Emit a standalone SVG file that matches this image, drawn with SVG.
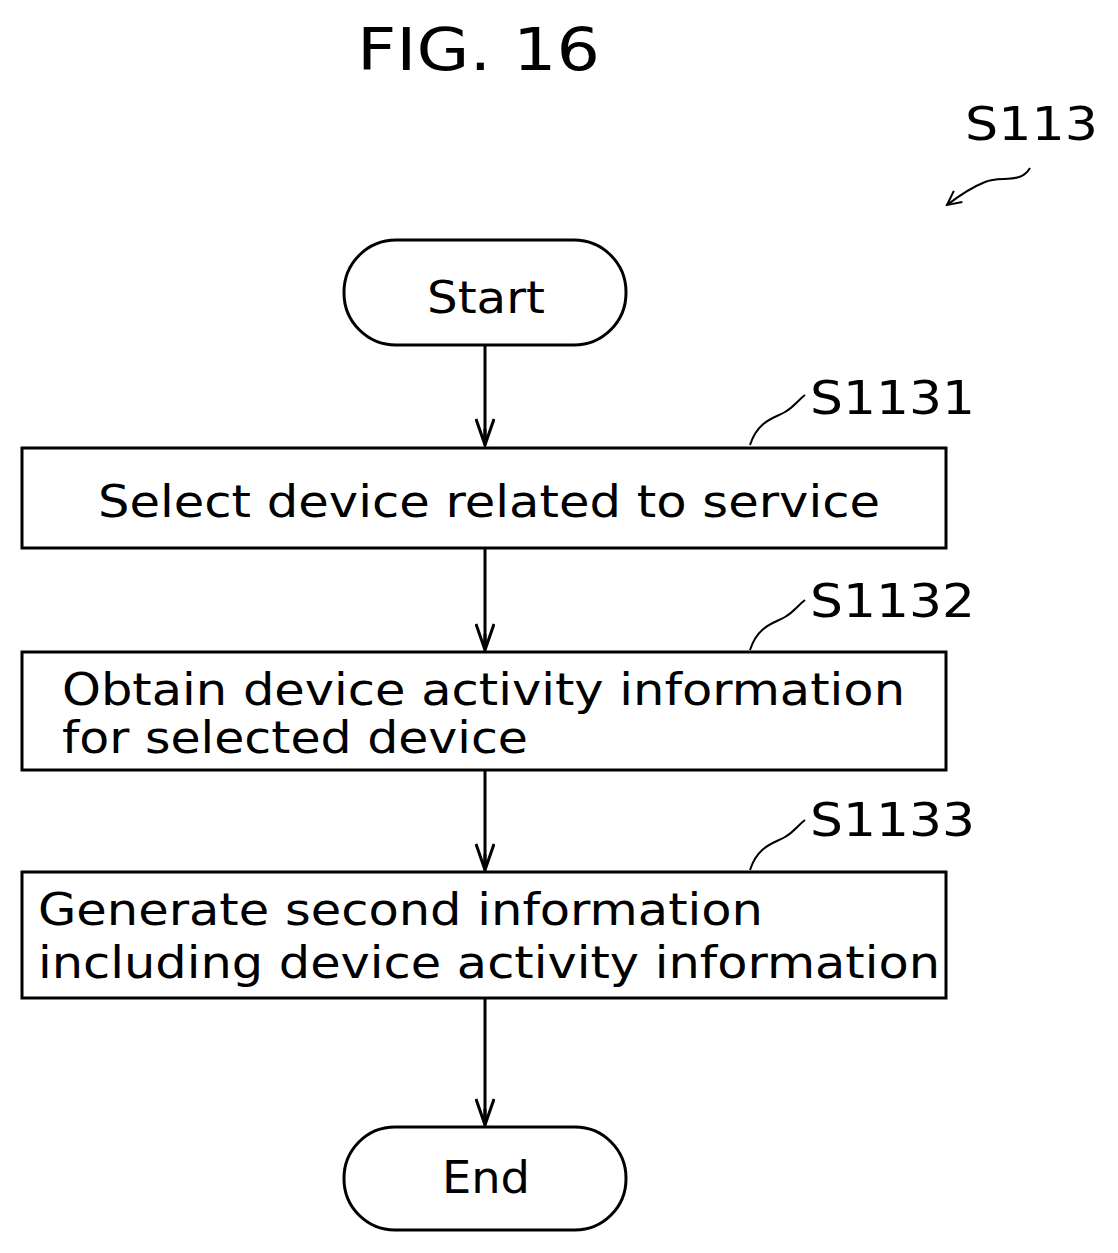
<svg xmlns="http://www.w3.org/2000/svg" width="1118" height="1253" viewBox="0 0 1118 1253">
<style>
text{font-family:"DejaVu Sans",sans-serif;fill:#000}
.t{font-size:45px}
.l{font-size:46px}
.b{fill:#fff;stroke:#000;stroke-width:3}
.c{fill:none;stroke:#000;stroke-width:3}
.s{fill:none;stroke:#000;stroke-width:2}
</style>
<defs>
<marker id="a" viewBox="0 0 30 20" refX="28" refY="10" markerWidth="30" markerHeight="20" markerUnits="userSpaceOnUse" orient="auto">
<path d="M2,1 L28,10 L2,19 M28,10 L12,10" fill="none" stroke="#000" stroke-width="3"/>
</marker>
<marker id="s" viewBox="0 0 20 20" refX="18" refY="10" markerWidth="20" markerHeight="20" markerUnits="userSpaceOnUse" orient="auto">
<path d="M4,3 L18,10 L4,17" fill="none" stroke="#000" stroke-width="2"/>
</marker>
</defs>
<text x="357" y="70" font-size="58" textLength="243" lengthAdjust="spacingAndGlyphs">FIG. 16</text>
<g id="label-s113"><text x="965" y="140" class="l" textLength="133" lengthAdjust="spacingAndGlyphs">S113</text>
<path class="s" d="M1030,168 C1020,185 1000,175 985,182 C970,188 960,195 947,205" marker-end="url(#s)"/></g>
<g id="connectors">
<line class="c" x1="485" y1="345" x2="485" y2="445" marker-end="url(#a)"/>
<line class="c" x1="485" y1="548" x2="485" y2="650" marker-end="url(#a)"/>
<line class="c" x1="485" y1="770" x2="485" y2="870" marker-end="url(#a)"/>
<line class="c" x1="485" y1="998" x2="485" y2="1125" marker-end="url(#a)"/>
</g>
<g id="start"><rect class="b" x="344" y="240" width="282" height="105" rx="52"/><text class="t" x="427" y="313" textLength="118" lengthAdjust="spacingAndGlyphs">Start</text></g>
<g id="s1131">
<rect class="b" x="22" y="448" width="924" height="100"/>
<text class="t" x="98" y="517" textLength="782" lengthAdjust="spacingAndGlyphs">Select device related to service</text>
<text class="l" x="810" y="414" textLength="165" lengthAdjust="spacingAndGlyphs">S1131</text>
<path class="s" d="M750,445 C758,420 775,418 785,412 C795,406 798,400 805,395"/>
</g>
<g id="s1132">
<rect class="b" x="22" y="652" width="924" height="118"/>
<text class="t" x="62" y="705" textLength="843" lengthAdjust="spacingAndGlyphs">Obtain device activity information</text>
<text class="t" x="62" y="753" textLength="466" lengthAdjust="spacingAndGlyphs">for selected device</text>
<text class="l" x="810" y="617" textLength="165" lengthAdjust="spacingAndGlyphs">S1132</text>
<path class="s" d="M750,650 C758,625 775,623 785,617 C795,611 798,605 805,600"/>
</g>
<g id="s1133">
<rect class="b" x="22" y="872" width="924" height="126"/>
<text class="t" x="38" y="925" textLength="725" lengthAdjust="spacingAndGlyphs">Generate second information</text>
<text class="t" x="38" y="978" textLength="902" lengthAdjust="spacingAndGlyphs">including device activity information</text>
<text class="l" x="810" y="836" textLength="165" lengthAdjust="spacingAndGlyphs">S1133</text>
<path class="s" d="M750,870 C758,845 775,843 785,837 C795,831 798,825 805,820"/>
</g>
<g id="end"><rect class="b" x="344" y="1127" width="282" height="103" rx="51"/><text class="t" x="442" y="1193" textLength="88" lengthAdjust="spacingAndGlyphs">End</text></g>
</svg>
